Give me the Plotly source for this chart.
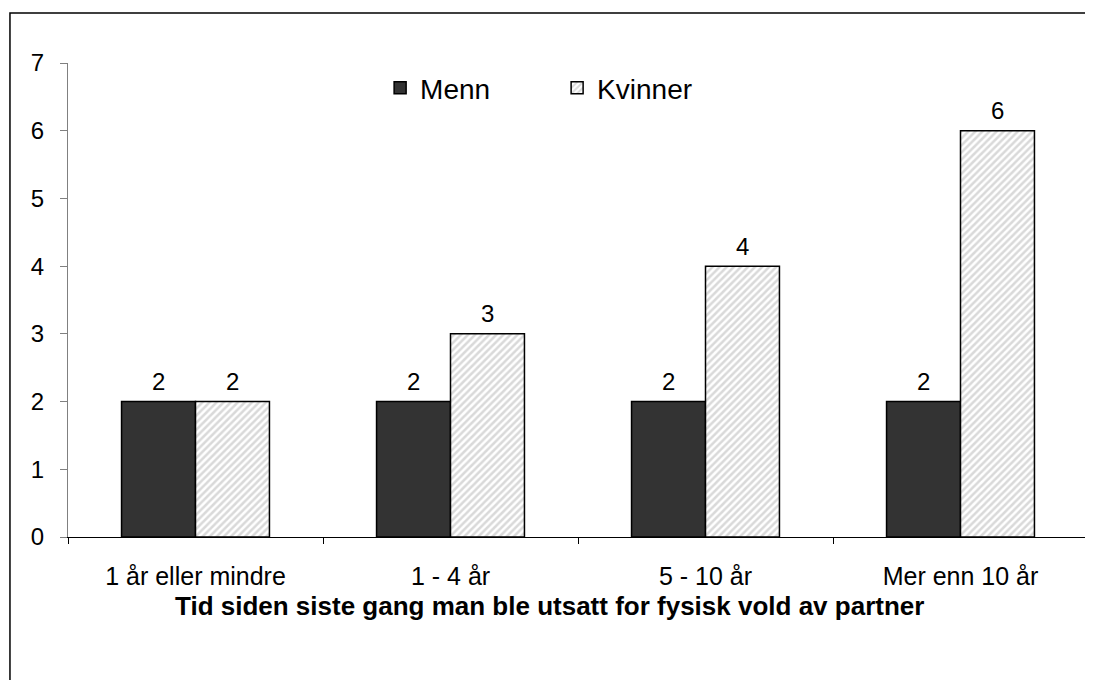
import plotly.graph_objects as go

categories = ["1 år eller mindre", "1 - 4 år", "5 - 10 år", "Mer enn 10 år"]
menn = [2, 2, 2, 2]
kvinner = [2, 3, 4, 6]
y_ticks = [0, 1, 2, 3, 4, 5, 6, 7]
x_title = "Tid siden siste gang man ble utsatt for fysisk vold av partner"

FONT = "Liberation Sans, Arial, sans-serif"

fig = go.Figure()
fig.add_trace(go.Bar(
    x=categories, y=menn, name="Menn",
    marker=dict(color="#333333", line=dict(color="#000000", width=1.5)),
))
fig.add_trace(go.Bar(
    x=categories, y=kvinner, name="Kvinner",
    marker=dict(color="#ffffff", line=dict(color="#000000", width=1.5),
                pattern=dict(shape="/", fgcolor="#b4b4b4", bgcolor="#ffffff",
                             size=5, solidity=0.5)),
))

annotations = []
for cat, v in zip(categories, menn):
    annotations.append(dict(x=cat, y=v, xref="x", yref="y", text=str(v), showarrow=False,
                            xshift=-37, yshift=20, font=dict(size=24, color="#000"),
                            xanchor="center", yanchor="middle"))
for cat, v in zip(categories, kvinner):
    annotations.append(dict(x=cat, y=v, xref="x", yref="y", text=str(v), showarrow=False,
                            xshift=37, yshift=20, font=dict(size=24, color="#000"),
                            xanchor="center", yanchor="middle"))
annotations.append(dict(x=0.4716, y=-0.1456, xref="paper", yref="paper", text="<b>" + x_title + "</b>",
                        showarrow=False, xanchor="center", yanchor="middle",
                        font=dict(size=26, color="#000")))

fig.update_layout(
    width=1085, height=672,
    margin=dict(l=60, r=5, t=55, b=143),
    paper_bgcolor="#ffffff", plot_bgcolor="#ffffff",
    font=dict(family=FONT, color="#000000", size=24),
    barmode="group", bargap=0.42, bargroupgap=0,
    showlegend=True,
    legend=dict(orientation="h", x=0.306, y=0.947, xanchor="left", yanchor="middle",
                font=dict(size=28), entrywidth=132, bgcolor="rgba(0,0,0,0)"),
    annotations=annotations,
    shapes=[dict(type="rect", xref="paper", yref="paper", x0=-0.0569, y0=-0.6, x1=1.2, y1=1.1055,
                 line=dict(color="#000000", width=1.5), fillcolor="rgba(0,0,0,0)", layer="below")],
)
fig.update_xaxes(
    type="category", showgrid=False, zeroline=False,
    showline=True, linecolor="#000000", linewidth=1,
    ticks="outside", tickson="boundaries", ticklen=6, tickcolor="#000000",
    tickfont=dict(size=25), ticklabelstandoff=17,
)
fig.update_yaxes(
    range=[0, 7], tickvals=y_ticks, showgrid=False, zeroline=False,
    showline=True, linecolor="#808080", linewidth=1,
    ticks="outside", ticklen=7, tickcolor="#808080",
    tickfont=dict(size=24), ticklabelstandoff=11,
)

fig.write_html("out.html")
